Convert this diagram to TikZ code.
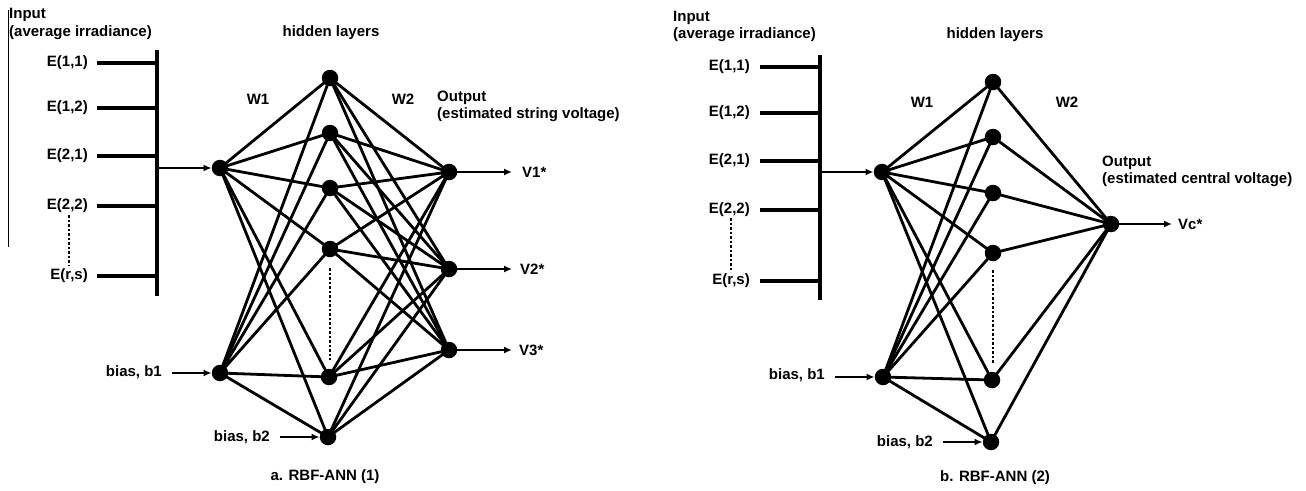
\documentclass[tikz,border=0pt]{standalone}
\usepackage{fontspec}
\setmainfont{Liberation Sans}
\usetikzlibrary{arrows.meta}
\tikzset{
  txt/.style={inner sep=0pt, font=\fontsize{15}{18}\selectfont\bfseries},
  neuron/.style={circle, fill=black, draw=none, inner sep=0pt, minimum size=16.5pt},
  edge/.style={line width=2.8pt},
  busline/.style={line width=3.2pt},
  arr/.style={line width=1.8pt, -{Latex[length=8pt,width=7pt]}},
  dots/.style={line width=1.1pt, dash pattern=on 2.5pt off 2pt},
  thin rule/.style={line width=1pt}
}
\begin{document}
\begin{tikzpicture}[x=1pt, y=-1pt]
\useasboundingbox (0,0) rectangle (1306,490);

% ================= network (a) =================
\draw[thin rule] (8,10) -- (8,247);
\node[txt, anchor=west] (aInput) at (9,15) {Input};
\node[txt, anchor=west] (aIrr) at (9,33) {(average irradiance)};
\node[txt] (aHid) at (331,33) {hidden layers};
\node[txt] (aW1) at (258,99) {W1};
\node[txt] (aW2) at (403,99) {W2};
\node[txt, anchor=west] (aOut) at (437,98) {Output};
\node[txt, anchor=west] (aOutT) at (437,115) {(estimated string voltage)};
\node[txt] (aCap) at (325,477) {a. RBF-ANN (1)};

% input bus
\coordinate (aBusT) at (157,50);
\coordinate (aBusB) at (157,296);
\draw[busline] (aBusT) -- (aBusB);
\foreach \lab/\y [count=\i] in {E(1{,}1)/63, E(1{,}2)/108, E(2{,}1)/156, E(2{,}2)/206, E(r{,}s)/276}{
  \node[txt, anchor=east] (aE\i) at (88,\y) {\lab};
  \coordinate (aEs\i) at (97,\y);
  \coordinate (aEj\i) at (157,\y);
  \draw[busline] (aEs\i) -- (aEj\i);
}
\coordinate (aDotT) at (69,215);
\coordinate (aDotB) at (69,266);
\draw[dots] (aDotT) -- (aDotB);

% neurons
\node[neuron] (aIn) at (220,168) {};
\node[neuron] (aB1) at (220,373) {};
\node[neuron] (aH1) at (330,78) {};
\node[neuron] (aH2) at (330,133) {};
\node[neuron] (aH3) at (330,188) {};
\node[neuron] (aH4) at (330,249) {};
\node[neuron] (aH5) at (329,377) {};
\node[neuron] (aB2) at (328,437) {};
\node[neuron] (aO1) at (449,172) {};
\node[neuron] (aO2) at (449,269) {};
\node[neuron] (aO3) at (449,350) {};

\coordinate (aHdT) at (330,268);
\coordinate (aHdB) at (330,360);
\draw[dots] (aHdT) -- (aHdB);

% weights
\foreach \h in {aH1,aH2,aH3,aH4,aH5,aB2}{
  \draw[edge] (aIn.center) -- (\h.center);
  \draw[edge] (aB1.center) -- (\h.center);
  \foreach \o in {aO1,aO2,aO3}{
    \draw[edge] (\h.center) -- (\o.center);
  }
}

% arrows
\coordinate (aJin) at (157,168);
\draw[arr] (aJin) -- (aIn);
\node[txt, anchor=east] (aBias1) at (162,372) {bias, b1};
\coordinate (aB1s) at (172,373);
\draw[arr] (aB1s) -- (aB1);
\node[txt, anchor=east] (aBias2) at (270,437) {bias, b2};
\coordinate (aB2s) at (280,437);
\draw[arr] (aB2s) -- (aB2);
\coordinate (aO1e) at (512,172);
\coordinate (aO2e) at (512,269);
\coordinate (aO3e) at (512,350);
\draw[arr] (aO1) -- (aO1e);
\draw[arr] (aO2) -- (aO2e);
\draw[arr] (aO3) -- (aO3e);
\node[txt, anchor=west] (aV1) at (522,172) {V1*};
\node[txt, anchor=west] (aV2) at (520,269) {V2*};
\node[txt, anchor=west] (aV3) at (519,350) {V3*};

% ================= network (b) =================
\node[txt, anchor=west] (bInput) at (673,18) {Input};
\node[txt, anchor=west] (bIrr) at (673,35) {(average irradiance)};
\node[txt] (bHid) at (995,35) {hidden layers};
\node[txt] (bW1) at (922,102) {W1};
\node[txt] (bW2) at (1067,102) {W2};
\node[txt, anchor=west] (bOut) at (1102,163) {Output};
\node[txt, anchor=west] (bOutT) at (1102,180) {(estimated central voltage)};
\node[txt] (bCap) at (995,478) {b. RBF-ANN (2)};

\coordinate (bBusT) at (820,55);
\coordinate (bBusB) at (820,300);
\draw[busline] (bBusT) -- (bBusB);
\foreach \lab/\y [count=\i] in {E(1{,}1)/67, E(1{,}2)/113, E(2{,}1)/161, E(2{,}2)/210, E(r{,}s)/281}{
  \node[txt, anchor=east] (bE\i) at (750,\y) {\lab};
  \coordinate (bEs\i) at (760,\y);
  \coordinate (bEj\i) at (820,\y);
  \draw[busline] (bEs\i) -- (bEj\i);
}
\coordinate (bDotT) at (731,218);
\coordinate (bDotB) at (731,272);
\draw[dots] (bDotT) -- (bDotB);

\node[neuron] (bIn) at (882,172) {};
\node[neuron] (bB1) at (883,377) {};
\node[neuron] (bH1) at (993,82) {};
\node[neuron] (bH2) at (993,137) {};
\node[neuron] (bH3) at (993,193) {};
\node[neuron] (bH4) at (993,253) {};
\node[neuron] (bH5) at (992,380) {};
\node[neuron] (bB2) at (991,442) {};
\node[neuron] (bO) at (1111,224) {};

\coordinate (bHdT) at (993,270);
\coordinate (bHdB) at (993,363);
\draw[dots] (bHdT) -- (bHdB);

\foreach \h in {bH1,bH2,bH3,bH4,bH5,bB2}{
  \draw[edge] (bIn.center) -- (\h.center);
  \draw[edge] (bB1.center) -- (\h.center);
  \draw[edge] (\h.center) -- (bO.center);
}

\coordinate (bJin) at (820,172);
\draw[arr] (bJin) -- (bIn);
\node[txt, anchor=east] (bBias1) at (825,375) {bias, b1};
\coordinate (bB1s) at (835,377);
\draw[arr] (bB1s) -- (bB1);
\node[txt, anchor=east] (bBias2) at (933,442) {bias, b2};
\coordinate (bB2s) at (943,442);
\draw[arr] (bB2s) -- (bB2);
\coordinate (bOe) at (1172,224);
\draw[arr] (bO) -- (bOe);
\node[txt, anchor=west] (bVc) at (1178,224) {Vc*};
\end{tikzpicture}
\end{document}
